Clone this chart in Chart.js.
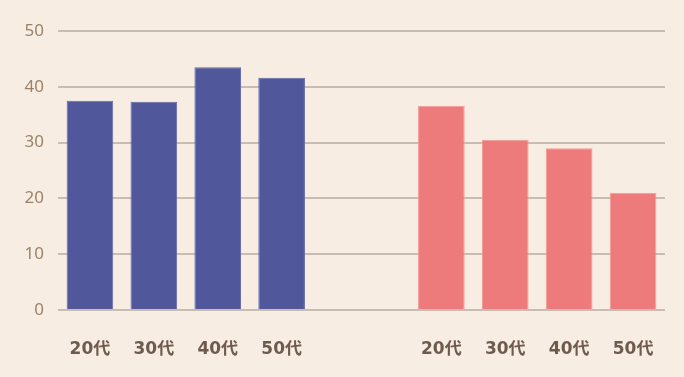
<!DOCTYPE html>
<html>
<head>
<meta charset="utf-8">
<script src="https://cdn.jsdelivr.net/npm/chart.js@4/dist/chart.umd.min.js"></script>
<style>
  html, body { margin: 0; padding: 0; background: #f8ede3; }
  #wrap { width: 684px; height: 377px; }
</style>
</head>
<body>
<div id="wrap"><canvas id="barChart"></canvas></div>
<script>
// 年代ラベルと値
const categories = ['20代', '30代', '40代', '50代'];
const blueValues = [37.5, 37.3, 43.5, 41.6];
const pinkValues = [36.6, 30.5, 29.0, 21.0];
const yTicks = [0, 10, 20, 30, 40, 50];

// 2グループの間の空き（カテゴリ幅の何個分か）
const groupGap = 1.5;
const blueX = categories.map((c, i) => i);
const pinkX = categories.map((c, i) => i + categories.length + groupGap);
const tickPos = blueX.concat(pinkX);
const tickLabel = categories.concat(categories);

const ctx = document.getElementById('barChart').getContext('2d');
new Chart(ctx, {
  type: 'bar',
  data: {
    datasets: [{
      data: blueValues.map((v, i) => ({ x: blueX[i], y: v })),
      backgroundColor: '#50579b',
      borderColor: '#6369a8',
      borderWidth: 1,
      categoryPercentage: 1,
      barPercentage: 0.73,
      grouped: false
    }, {
      data: pinkValues.map((v, i) => ({ x: pinkX[i], y: v })),
      backgroundColor: '#ee7b7b',
      borderColor: '#f29a97',
      borderWidth: 1,
      categoryPercentage: 1,
      barPercentage: 0.73,
      grouped: false
    }]
  },
  options: {
    responsive: true,
    maintainAspectRatio: false,
    animation: false,
    layout: { padding: { top: 31, right: 19, left: 0, bottom: 0 } },
    plugins: { legend: { display: false }, tooltip: { enabled: false } },
    scales: {
      x: {
        type: 'linear',
        offset: false,
        min: -0.5,
        max: categories.length * 2 + groupGap - 0.5,
        grid: { display: false },
        border: { display: false },
        afterBuildTicks: axis => { axis.ticks = tickPos.map(v => ({ value: v })); },
        afterFit: axis => { axis.height = 67; },
        ticks: {
          padding: 21,
          autoSkip: false,
          maxRotation: 0,
          color: '#6e5b4d',
          font: { family: '"DejaVu Sans", "Noto Sans CJK JP", sans-serif', size: 17, weight: 'bold' },
          callback: (v, i) => tickLabel[i]
        }
      },
      y: {
        min: 0,
        max: 50,
        afterBuildTicks: axis => { axis.ticks = yTicks.map(v => ({ value: v })); },
        afterFit: axis => { axis.width = 58; },
        grid: { color: '#c9bcb2', lineWidth: 2, drawTicks: false },
        border: { display: false },
        ticks: {
          padding: 14,
          color: '#9a8469',
          font: { family: '"Noto Sans", sans-serif', size: 17 }
        }
      }
    }
  }
});
</script>
</body>
</html>
